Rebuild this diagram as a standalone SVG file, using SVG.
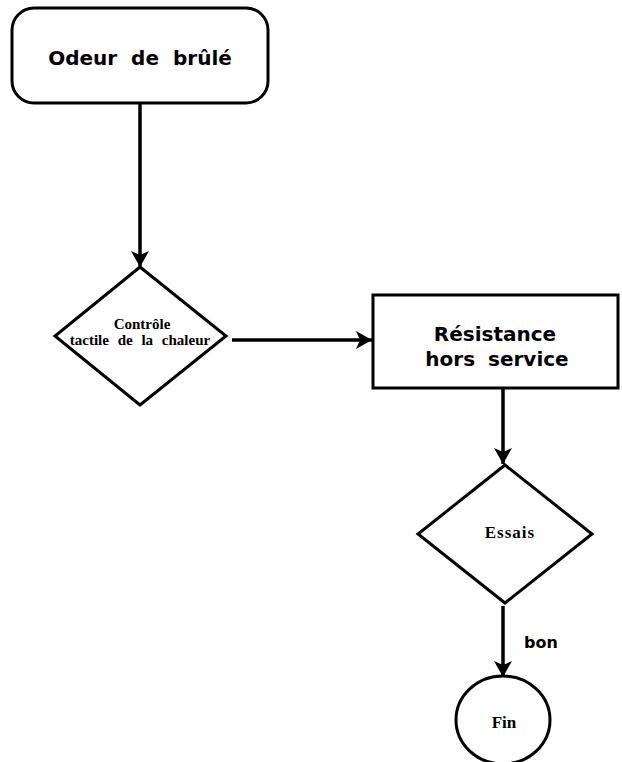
<svg xmlns="http://www.w3.org/2000/svg" width="622" height="762" viewBox="0 0 622 762">
  <defs>
    <marker id="arrow" viewBox="0 0 16 20" refX="16" refY="10" markerWidth="16" markerHeight="20" markerUnits="userSpaceOnUse" orient="auto">
      <path d="M0,1 L16,10 L0,19 L4,10 Z" fill="#000"/>
    </marker>
    <style>
      .shape { fill: #fff; stroke: #000; stroke-width: 3; }
      .edge { fill: none; stroke: #000; stroke-width: 3.5; marker-end: url(#arrow); }
      .sans { font-family: "DejaVu Sans", "Liberation Sans", sans-serif; font-weight: bold; fill: #000; text-anchor: middle; }
      .serif { font-family: "Liberation Serif", "Times New Roman", serif; font-weight: bold; fill: #000; text-anchor: middle; }
    </style>
  </defs>
  <rect width="622" height="762" fill="#fff"/>

  <g id="connectors">
    <line class="edge" x1="140" y1="103" x2="140" y2="267"/>
    <line class="edge" x1="232" y1="340" x2="372" y2="340"/>
    <line class="edge" x1="503" y1="388" x2="503" y2="464"/>
    <line class="edge" x1="503" y1="606" x2="503" y2="677"/>
    <text class="sans" x="541" y="648" font-size="16">bon</text>
  </g>

  <g id="odeur">
    <rect class="shape" x="12" y="8" width="256" height="95" rx="22" ry="22"/>
    <text class="sans" x="140" y="65" font-size="20" word-spacing="7">Odeur de brûlé</text>
  </g>

  <g id="controle">
    <polygon class="shape" points="140,267 226,336 140,405 55,336"/>
    <text class="serif" x="142" y="329" font-size="15">Contrôle</text>
    <text class="serif" x="140" y="345" font-size="15" word-spacing="5">tactile de la chaleur</text>
  </g>

  <g id="resistance">
    <rect class="shape" x="373" y="295" width="245" height="93"/>
    <text class="sans" x="495" y="341" font-size="20">Résistance</text>
    <text class="sans" x="497" y="366" font-size="20" word-spacing="6">hors service</text>
  </g>

  <g id="essais">
    <polygon class="shape" points="505,465 592,534 505,603 418,534"/>
    <text class="serif" x="510" y="538" font-size="17" letter-spacing="1">Essais</text>
  </g>

  <g id="fin">
    <ellipse class="shape" cx="503" cy="720" rx="47" ry="44"/>
    <text class="serif" x="504" y="728" font-size="17">Fin</text>
  </g>
</svg>
